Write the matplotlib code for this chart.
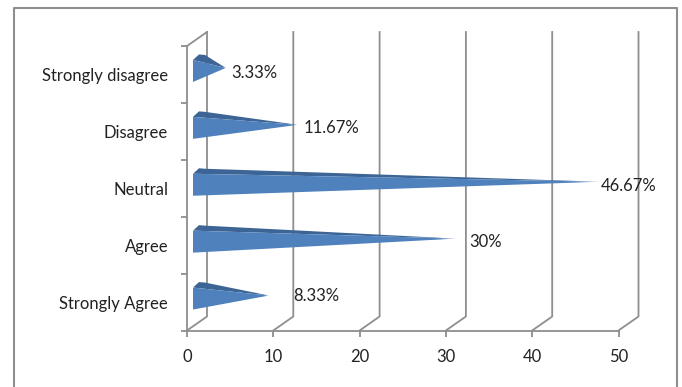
import numpy as np
import matplotlib.pyplot as plt
from matplotlib.patches import Polygon
from matplotlib.lines import Line2D

categories = ['Strongly Agree', 'Agree', 'Neutral', 'Disagree', 'Strongly disagree']
values = [8.33, 30, 46.67, 11.67, 3.33]
value_labels = ['8.33%', '30%', '46.67%', '11.67%', '3.33%']
x_ticks = [0, 10, 20, 30, 40, 50]

# nudges for each value label, in pixels from the end of the bar
label_dx = [34, 23, 11, 16, 16]
label_dy = [6.5, 3, 2.5, 3.5, 1.5]

GREY = '#8e8e8e'
FRONT = '#4f81bd'
TOP = '#3c6494'
TEXT = '#222222'
FONT_SIZE = 12

plt.rcParams['font.family'] = ['Lato', 'DejaVu Sans']

fig = plt.figure(figsize=(6.82, 3.87), dpi=100)
ax = fig.add_axes([187 / 682, 1 - 330.5 / 387, 431.5 / 682, 284.5 / 387])

# data units per pixel
ux = 50 / 431.5
uy = 5 / 284.5
depth_x = 20 * ux
depth_y = 14 * uy

# chart frame, open at the bottom
fx = [14 / 682, 14 / 682, 677 / 682, 677 / 682]
fy = [0, 1 - 8 / 387, 1 - 8 / 387, 0]
fig.add_artist(Line2D(fx, fy, color=GREY, lw=1.5, transform=fig.transFigure))

# back walls and the floor lines leading to them
for t in x_ticks:
    ax.plot([t, t + depth_x, t + depth_x], [-0.5, -0.5 + depth_y, 4.5 + depth_y],
            color=GREY, lw=1.3, clip_on=False, zorder=1)
ax.plot([0, depth_x], [4.5, 4.5 + depth_y], color=GREY, lw=1.3, clip_on=False, zorder=1)

# one flattened cone per category
fade = np.ones((1, 400, 4))
fade[:, :, :3] = plt.matplotlib.colors.to_rgb(FRONT)

for i, v in enumerate(values):
    base = 6 * ux
    tip_x = v + 10 * ux
    tip_y = i + 6.5 * uy
    low = (base, i - 7.5 * uy)
    high = (base, i + 14.5 * uy)
    tip = (tip_x, tip_y)

    top_face = [high, (base + 6 * ux, i + 20 * uy), (base + 12 * ux, i + 19.5 * uy), tip]
    ax.add_patch(Polygon(top_face, closed=True, fc=TOP, ec='none', zorder=3))

    # the very point of the cone fades out
    shade = fade.copy()
    n_fade = 24
    shade[:, -n_fade:, 3] = np.linspace(1, 0.2, n_fade)
    front = Polygon([low, high, tip], closed=True, fc='none', ec='none', zorder=4)
    ax.add_patch(front)
    im = ax.imshow(shade, extent=[base, tip_x, low[1], high[1]], aspect='auto', zorder=4)
    im.set_clip_path(front)

    ax.annotate(value_labels[i], (v, i), xytext=(label_dx[i] * 0.72, label_dy[i] * 0.72),
                textcoords='offset points', ha='left', va='center',
                fontsize=FONT_SIZE, color=TEXT, zorder=5, annotation_clip=False)

ax.set_xlim(0, 50)
ax.set_ylim(-0.5, 4.5)

for side in ['top', 'right']:
    ax.spines[side].set_visible(False)
for side in ['left', 'bottom']:
    ax.spines[side].set_color(GREY)
    ax.spines[side].set_linewidth(1.3)

ax.set_xticks(x_ticks)
ax.tick_params(axis='x', length=4.5, width=1.3, color=GREY, pad=9, labelsize=FONT_SIZE, labelcolor=TEXT)

# category names sit between the y ticks
ax.set_yticks(np.arange(-0.5, 5, 1))
ax.set_yticklabels([])
ax.set_yticks(np.arange(len(categories)), labels=categories, minor=True)
ax.tick_params(axis='y', which='major', length=4.5, width=1.3, color=GREY)
ax.tick_params(axis='y', which='minor', length=0, pad=13.5, labelsize=FONT_SIZE, labelcolor=TEXT)

fig.savefig('out.png', dpi=100)
